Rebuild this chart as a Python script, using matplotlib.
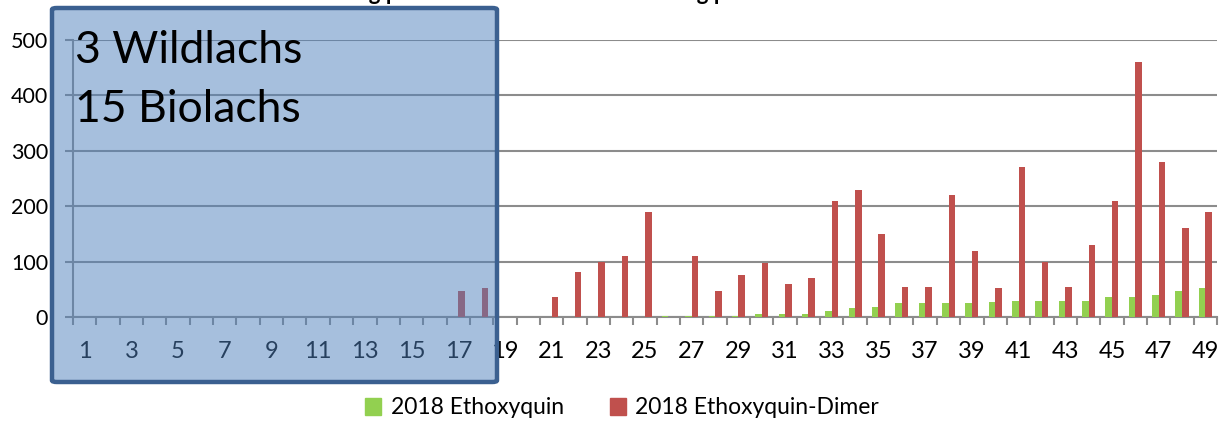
import matplotlib.pyplot as plt
import numpy as np
from matplotlib.patches import FancyBboxPatch, Patch

plt.rcParams['font.family'] = ['Lato', 'DejaVu Sans']

# Probennummern 1..49
proben = [str(i) for i in range(1, 50)]
ethoxyquin = [0, 0, 0, 0, 0, 0, 0, 0, 0, 0, 0, 0, 0, 0, 0, 0, 0, 0, 0, 0,
              0, 0, 0, 0, 0, 1, 1, 2, 2, 6, 5, 6, 10, 16, 18, 25, 26, 26, 26,
              27, 28, 29, 29, 29, 36, 37, 40, 47, 52]
dimer = [0, 0, 0, 0, 0, 0, 0, 0, 0, 0, 0, 0, 0, 0, 0, 0, 47, 52, 0, 0,
         36, 82, 100, 110, 190, 0, 110, 47, 75, 97, 60, 70, 210, 230, 150,
         55, 55, 220, 120, 52, 270, 100, 55, 130, 210, 460, 280, 160, 190]
box_text = ['3 Wildlachs', '15 Biolachs']

green = '#92D050'
red = '#C0504D'
grid_c = '#8C8C8C'

fig = plt.figure(figsize=(12.27, 4.21), dpi=100)
ax = fig.add_axes([73 / 1227, 1 - 317 / 421, (1217 - 73) / 1227, (317 - 40) / 421])

x = np.arange(1, len(proben) + 1)
w = 0.28
ax.bar(x - w / 2, ethoxyquin, width=w, color=green, zorder=3)
ax.bar(x + w / 2, dimer, width=w, color=red, zorder=3)

ax.set_xlim(0.5, len(proben) + 0.5)
ax.set_ylim(0, 500)
ax.set_yticks([0, 100, 200, 300, 400, 500])
ax.yaxis.grid(True, color=grid_c, linewidth=1.5, zorder=0)
ax.set_axisbelow(True)

ax.set_xticks(x[::2])
ax.set_xticklabels(proben[::2])
ax.set_xticks(np.arange(0.5, len(proben) + 1, 1), minor=True)
ax.tick_params(axis='x', which='major', length=0, pad=17, labelsize=17)
ax.tick_params(axis='x', which='minor', length=6, width=1.5, color=grid_c, direction='out')
ax.tick_params(axis='y', length=6, width=1.5, color=grid_c, pad=12, labelsize=15.5)

for s in ['top', 'right']:
    ax.spines[s].set_visible(False)
for s in ['left', 'bottom']:
    ax.spines[s].set_color(grid_c)
    ax.spines[s].set_linewidth(1.5)

# abgeschnittener Titel oben
fig.text(0.312, 1.0, 'Belastung pro Probe', fontsize=16, fontweight='bold',
         ha='center', va='baseline')
fig.text(0.580, 1.0, 'Belastung pro Probe', fontsize=16, fontweight='bold',
         ha='center', va='baseline')

# blaue Box
x0, x1 = 52 / 1227, 497 / 1227
y0, y1 = 1 - 382 / 421, 1 - 8 / 421
box = FancyBboxPatch((x0, y0), x1 - x0, y1 - y0, boxstyle='round,pad=0,rounding_size=0.004',
                     transform=fig.transFigure, facecolor=(0.31, 0.506, 0.741, 0.5),
                     edgecolor='#3B6090', linewidth=3.2)
fig.add_artist(box)
fig.text(75 / 1227, 1 - 63 / 421, box_text[0], fontsize=32, va='baseline', ha='left')
fig.text(75 / 1227, 1 - 122 / 421, box_text[1], fontsize=32, va='baseline', ha='left')

handles = [Patch(color=green, label='2018 Ethoxyquin'),
           Patch(color=red, label='2018 Ethoxyquin-Dimer')]
fig.legend(handles=handles, loc='center', bbox_to_anchor=(622 / 1227, 1 - 408 / 421),
           ncol=2, frameon=False, fontsize=16.5, handlelength=0.7, handleheight=0.7,
           handletextpad=0.4, columnspacing=2.0)

fig.savefig('out.png', dpi=100)
